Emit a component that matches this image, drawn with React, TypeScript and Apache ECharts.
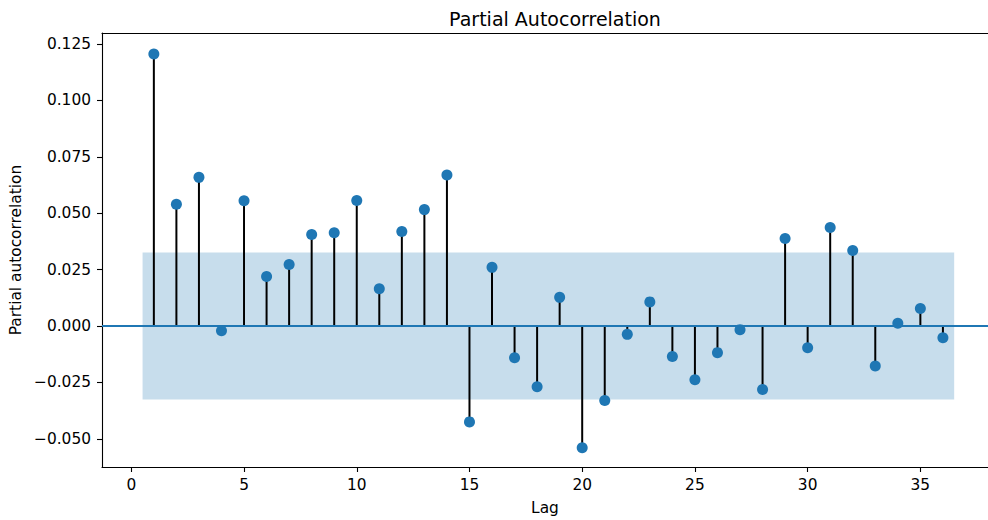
import React, { useEffect, useRef } from "react";
import * as echarts from "echarts";

const lags: number[] = [1,2,3,4,5,6,7,8,9,10,11,12,13,14,15,16,17,18,19,20,21,22,23,24,25,26,27,28,29,30,31,32,33,34,35,36];
const pacf: number[] = [
  0.1206, 0.054, 0.0659, -0.0021, 0.0555, 0.022, 0.0273, 0.0406, 0.0413, 0.0556,
  0.0165, 0.0419, 0.0516, 0.0669, -0.0425, 0.026, -0.0141, -0.0269, 0.0127, -0.054,
  -0.033, -0.0037, 0.0107, -0.0135, -0.0238, -0.0118, -0.0016, -0.0281, 0.0388, -0.0096,
  0.0437, 0.0335, -0.0177, 0.0012, 0.0078, -0.0052,
];
const confBound = 0.0326;
const bandRange: number[] = [0.5, 36.5];
const xTicks: number[] = [0, 5, 10, 15, 20, 25, 30, 35];
const yTicks: number[] = [-0.05, -0.025, 0, 0.025, 0.05, 0.075, 0.1, 0.125];

const BLUE = "#1f77b4";
const FONT = "DejaVu Sans";
const TICK_FS = 15.4;

function fmtY(v: number): string {
  const s = Math.abs(v).toFixed(3);
  return v < -1e-9 ? "\u2212" + s : s;
}

export default function App() {
  const ref = useRef<HTMLDivElement>(null);
  useEffect(() => {
    if (!ref.current) return;
    const chart = echarts.init(ref.current, null, { renderer: "svg" });
    const pts = lags.map((l, i) => [l, pacf[i]]);
    chart.setOption({
      animation: false,
      backgroundColor: "#ffffff",
      textStyle: { fontFamily: FONT },
      title: {
        text: "Partial Autocorrelation",
        left: 550,
        top: 4,
        textAlign: "center",
        textStyle: { fontFamily: FONT, fontSize: 19, fontWeight: "normal", color: "#000" },
      },
      grid: {
        left: 102,
        top: 33,
        width: 886,
        height: 434,
        show: false,
      },
      xAxis: [
        {
          type: "value",
          min: -1.3,
          max: 38.0,
          name: "Lag",
          nameLocation: "middle",
          nameGap: 33,
          nameTextStyle: { fontFamily: FONT, fontSize: TICK_FS, color: "#000" },
          axisLine: { show: true, onZero: false, lineStyle: { color: "#000", width: 1.1 } },
          axisTick: { show: true, length: 5, customValues: xTicks, lineStyle: { color: "#000", width: 1.1 } },
          axisLabel: { customValues: xTicks, margin: 10, fontFamily: FONT, fontSize: TICK_FS, color: "#000" },
          splitLine: { show: false },
        },
        {
          type: "value",
          position: "top",
          min: -1.3,
          max: 38.0,
          axisLine: { show: true, onZero: false, lineStyle: { color: "#000", width: 1.1 } },
          axisTick: { show: false },
          axisLabel: { show: false },
          splitLine: { show: false },
        },
      ],
      yAxis: {
        type: "value",
        min: -0.0625,
        max: 0.1299,
        name: "Partial autocorrelation",
        nameLocation: "middle",
        nameGap: 77,
        nameTextStyle: { fontFamily: FONT, fontSize: TICK_FS, color: "#000" },
        axisLine: { show: true, onZero: false, lineStyle: { color: "#000", width: 1.1 } },
        axisTick: { show: true, length: 5, customValues: yTicks, lineStyle: { color: "#000", width: 1.1 } },
        axisLabel: {
          customValues: yTicks,
          margin: 11,
          fontFamily: FONT,
          fontSize: TICK_FS,
          color: "#000",
          formatter: (v: number) => fmtY(v),
        },
        splitLine: { show: false },
      },
      series: [
        {
          type: "line",
          data: [],
          silent: true,
          markArea: {
            silent: true,
            itemStyle: { color: "rgba(31,119,180,0.25)" },
            data: [[{ xAxis: bandRange[0], yAxis: -confBound }, { xAxis: bandRange[1], yAxis: confBound }]],
          },
          markLine: {
            silent: true,
            symbol: "none",
            label: { show: false },
            lineStyle: { color: BLUE, width: 2, type: "solid" },
            data: [{ yAxis: 0 }],
            z: 3,
          },
          z: 1,
        },
        {
          type: "bar",
          data: pts,
          barWidth: 2,
          itemStyle: { color: "#000" },
          z: 2,
        },
        {
          type: "scatter",
          data: pts,
          symbol: "circle",
          symbolSize: 11,
          itemStyle: { color: BLUE, opacity: 1 },
          z: 4,
        },
      ],
    });
    return () => chart.dispose();
  }, []);
  return (
    <div
      ref={ref}
      style={{ position: "fixed", left: 0, top: 0, width: 988, height: 520 }}
    />
  );
}
